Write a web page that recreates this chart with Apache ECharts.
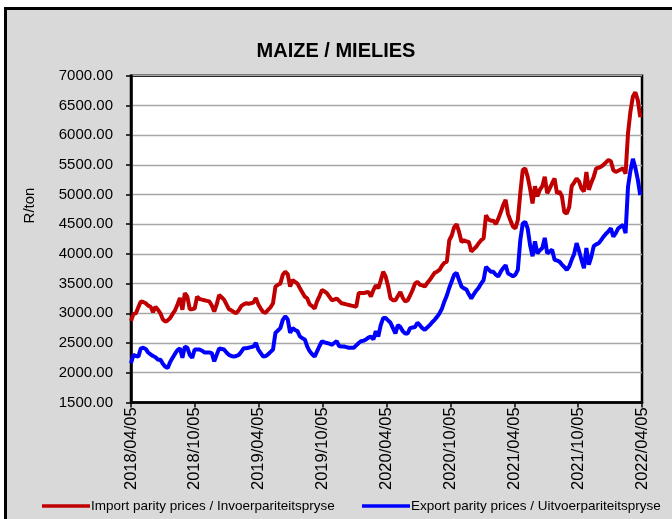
<!DOCTYPE html>
<html><head><meta charset="utf-8">
<script src="https://cdn.jsdelivr.net/npm/echarts@6/dist/echarts.min.js"></script>
<style>html,body{margin:0;padding:0;background:#fff}#c{width:672px;height:519px}</style>
</head><body><div id="c"></div>
<script>
// Weekly observations starting 2018/04/05
const startDate = '2018-04-05';
const tickLabels = ['2018/04/05','2018/10/05','2019/04/05','2019/10/05','2020/04/05','2020/10/05','2021/04/05','2021/10/05','2022/04/05'];
const importParity = [
2870,2990,3000,3100,3200,3190,3170,3130,3110,3020,
3110,3060,3000,2900,2860,2880,2920,2990,3050,3150,
3260,3060,3340,3280,3070,3070,3080,3280,3240,3230,
3220,3210,3200,3130,3030,3150,3310,3270,3230,3150,
3070,3050,3020,3000,3050,3120,3150,3170,3160,3170,
3180,3260,3150,3080,3020,3010,3060,3100,3170,3450,
3480,3500,3650,3700,3660,3450,3560,3530,3500,3420,
3350,3280,3250,3150,3120,3080,3200,3290,3390,3370,
3340,3280,3220,3230,3250,3210,3170,3160,3150,3140,
3130,3120,3110,3340,3340,3340,3350,3360,3280,3390,
3470,3420,3550,3700,3620,3460,3250,3220,3220,3290,
3360,3260,3200,3220,3300,3390,3500,3530,3480,3470,
3450,3510,3560,3620,3680,3700,3730,3800,3850,3870,
4230,4310,4450,4500,4370,4200,4230,4210,4200,4040,
4080,4120,4180,4230,4260,4650,4580,4560,4560,4500,
4590,4700,4820,4910,4670,4560,4460,4430,4570,5020,
5410,5440,5300,5100,4850,5140,4970,5080,5140,5300,
5020,5100,5190,5270,5020,5050,4970,4700,4680,4790,
5140,5200,5270,5220,5100,5050,5380,5080,5200,5300,
5440,5450,5470,5500,5540,5580,5560,5410,5380,5400,
5420,5440,5350,6030,6400,6650,6720,6590,6300];
const exportParity = [
2160,2300,2280,2270,2410,2420,2400,2340,2310,2280,
2260,2220,2220,2150,2100,2080,2180,2250,2320,2380,
2410,2250,2440,2420,2300,2250,2390,2390,2390,2370,
2340,2340,2340,2330,2190,2300,2410,2400,2390,2340,
2300,2280,2270,2280,2300,2350,2410,2410,2420,2430,
2440,2500,2390,2330,2270,2280,2310,2350,2390,2670,
2710,2750,2890,2950,2900,2670,2750,2720,2700,2610,
2580,2560,2440,2360,2310,2270,2360,2450,2530,2510,
2500,2490,2470,2500,2530,2450,2440,2440,2430,2420,
2420,2420,2460,2500,2530,2540,2560,2590,2610,2560,
2700,2610,2800,2920,2920,2880,2840,2750,2660,2800,
2770,2700,2660,2660,2750,2760,2770,2840,2800,2750,
2720,2760,2800,2850,2890,2940,3000,3080,3200,3300,
3430,3540,3650,3680,3560,3450,3420,3400,3320,3250,
3320,3380,3430,3500,3560,3780,3740,3700,3700,3650,
3620,3700,3760,3810,3670,3650,3620,3650,3730,4230,
4510,4540,4430,4150,3960,4210,4010,4060,4100,4270,
4010,4040,4070,3900,3890,3870,3820,3780,3730,3790,
3900,4000,4180,4050,3900,3760,4100,3820,3950,4130,
4160,4180,4230,4290,4340,4380,4430,4290,4350,4430,
4460,4490,4350,5130,5400,5600,5450,5250,4990];
const seriesNames = ['Import parity prices / Invoerpariteitspryse','Export parity prices / Uitvoerpariteitspryse'];
const chartTitle = 'MAIZE / MIELIES';
const yAxisTitle = 'R/ton';

const FONT = '"Liberation Sans",Arial,sans-serif';
const spanDays = 1461; // 2018/04/05 .. 2022/04/05
const step = spanDays / (tickLabels.length - 1);
const toPairs = arr => arr.map((v, i) => [i * 7, v]);
const legendText = {fontFamily: FONT, fontSize: 13.5, color: '#000', padding: [0, 0, 0, -4]};

const chart = echarts.init(document.getElementById('c'), null, {renderer: 'canvas'});
chart.setOption({
  animation: false,
  backgroundColor: '#ffffff',
  graphic: [{
    type: 'rect', z: -10, silent: true,
    shape: {x: 5.5, y: 8.5, width: 720, height: 560},
    style: {fill: '#d9d9d9', stroke: '#000', lineWidth: 3}
  }, {
    type: 'text', silent: true, x: 30, y: 205.5, rotation: Math.PI / 2,
    style: {text: yAxisTitle, fontFamily: FONT, fontSize: 15, fill: '#000', align: 'center', verticalAlign: 'middle'}
  }],
  title: {
    text: chartTitle, left: 'center', top: 36,
    textStyle: {fontFamily: FONT, fontWeight: 'bold', fontSize: 20, color: '#000'}
  },
  grid: {left: 131, top: 75.7, right: 30, bottom: 116.6, show: true, backgroundColor: '#fff', borderColor: '#000', borderWidth: 2.5},
  legend: [{
    left: 37, top: 494, itemWidth: 48, itemHeight: 3.5, icon: 'rect', textStyle: legendText, data: [seriesNames[0]]
  }, {
    left: 357, top: 494, itemWidth: 48, itemHeight: 3.5, icon: 'rect', textStyle: legendText, data: [seriesNames[1]]
  }],
  xAxis: {
    type: 'value', min: 0, max: spanDays, interval: step,
    axisLine: {show: true, lineStyle: {color: '#000', width: 2.5}},
    axisTick: {show: true, length: 5, lineStyle: {color: '#000', width: 1.5}},
    splitLine: {show: false},
    axisLabel: {rotate: 90, margin: 5, fontFamily: FONT, fontSize: 16.5, color: '#000',
      showMinLabel: true, showMaxLabel: true,
      formatter: v => tickLabels[Math.round(v / step)] || ''}
  },
  yAxis: {
    type: 'value', min: 1500, max: 7000, interval: 500,
    axisLine: {show: true, lineStyle: {color: '#000', width: 2.5}},
    axisTick: {show: true, length: 5, lineStyle: {color: '#000', width: 1.5}},
    splitLine: {show: true, lineStyle: {color: '#a6a6a6', width: 1.4}},
    axisLabel: {margin: 18, fontFamily: FONT, fontSize: 15, color: '#000', formatter: v => v.toFixed(2)}
  },
  series: [
    {name: seriesNames[0], type: 'line', data: toPairs(importParity), showSymbol: false, symbol: 'none',
     lineStyle: {color: '#c00000', width: 4}, itemStyle: {color: '#c00000'}},
    {name: seriesNames[1], type: 'line', data: toPairs(exportParity), showSymbol: false, symbol: 'none',
     lineStyle: {color: '#0000ff', width: 4}, itemStyle: {color: '#0000ff'}}
  ]
});
</script></body></html>
